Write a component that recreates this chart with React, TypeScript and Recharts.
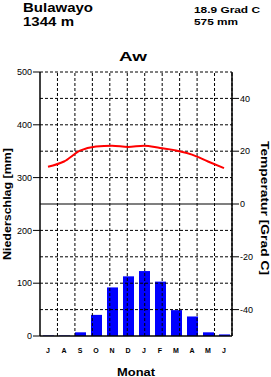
import React from 'react';
import { ComposedChart, Bar, Line, XAxis, YAxis, ReferenceLine } from 'recharts';

const months = ['J', 'A', 'S', 'O', 'N', 'D', 'J', 'F', 'M', 'A', 'M', 'J'];
const precipitation = [1, 1, 7, 40, 92, 113, 123, 103, 49, 37, 7, 3];
const temperature = [14.1, 16.1, 20.2, 21.8, 22.1, 21.6, 22.1, 21.2, 20.3, 18.7, 16.1, 13.6];
const precipTicks = [0, 100, 200, 300, 400, 500];
const tempTicks = [-40, -20, 0, 20, 40];
const precipGridDashed = [50, 100, 150, 200, 300, 350, 400, 450, 500];
const tempGridSolid = [0];
const monthBoundaries = [1, 2, 3, 4, 5, 6, 7, 8, 9, 10, 11];

const data = months.map((m, i) => ({ month: m, p: precipitation[i], t: temperature[i] }));

const FONT = '"Liberation Sans", Arial, Helvetica, sans-serif';

export default function App() {
  const tickStyle = { fontSize: 9, fill: '#000', fontFamily: FONT };
  return (
    <div style={{ position: 'absolute', left: 0, top: 0, width: 271, height: 377, background: '#fff' }}>
      <ComposedChart
        width={271}
        height={377}
        data={data}
        margin={{ top: 72, right: 9, bottom: 21, left: 10 }}
      >
        <XAxis
          dataKey="month"
          allowDuplicatedCategory
          tickLine={false}
          tickSize={10}
          tickMargin={2}
          height={20}
          axisLine={{ stroke: '#000', strokeWidth: 1.5 }}
          tick={{ fontSize: 7, fill: '#000', fontFamily: FONT, fontWeight: 'bold' }}
          interval={0}
        />
        <XAxis xAxisId="grid" type="number" domain={[0, 12]} allowDataOverflow hide />
        <YAxis
          yAxisId="left"
          domain={[0, 500]}
          ticks={precipTicks}
          width={30}
          tickSize={7}
          tickMargin={1}
          interval={0}
          axisLine={{ stroke: '#000', strokeWidth: 1.5 }}
          tickLine={{ stroke: '#000' }}
          tick={tickStyle}
        />
        <YAxis
          yAxisId="right"
          orientation="right"
          domain={[-50, 50]}
          ticks={tempTicks}
          width={30}
          tickSize={7}
          tickMargin={1}
          interval={0}
          axisLine={{ stroke: '#000', strokeWidth: 1.5 }}
          tickLine={{ stroke: '#000' }}
          tick={tickStyle}
        />
        {precipGridDashed.map((v) => (
          <ReferenceLine key={'h' + v} yAxisId="left" y={v} stroke="#000" strokeDasharray="3 2" strokeWidth={1} />
        ))}
        {tempGridSolid.map((v) => (
          <ReferenceLine key={'t' + v} yAxisId="right" y={v} stroke="#000" strokeWidth={1.2} />
        ))}
        {monthBoundaries.map((v) => (
          <ReferenceLine key={'v' + v} xAxisId="grid" yAxisId="left" x={v} stroke="#000" strokeDasharray="3 2" strokeWidth={1} />
        ))}
        <Bar yAxisId="left" dataKey="p" fill="#0000ff" barSize={11} isAnimationActive={false} />
        <Line
          yAxisId="right"
          dataKey="t"
          type="monotone"
          stroke="#ff0000"
          strokeWidth={2}
          dot={false}
          isAnimationActive={false}
        />
      </ComposedChart>
      <svg
        width={271}
        height={377}
        style={{ position: 'absolute', left: 0, top: 0, pointerEvents: 'none' }}
        fontFamily={FONT}
        fontWeight="bold"
      >
        <text x={23} y={12} fontSize={13} textLength={70} lengthAdjust="spacingAndGlyphs">Bulawayo</text>
        <text x={23} y={26} fontSize={13} textLength={51} lengthAdjust="spacingAndGlyphs">1344 m</text>
        <text x={194} y={13} fontSize={9.5} textLength={66} lengthAdjust="spacingAndGlyphs">18.9 Grad C</text>
        <text x={194} y={25} fontSize={9.5} textLength={44} lengthAdjust="spacingAndGlyphs">575 mm</text>
        <text x={119} y={61} fontSize={12} textLength={28} lengthAdjust="spacingAndGlyphs">Aw</text>
        <text x={117} y={376} fontSize={11} textLength={38} lengthAdjust="spacingAndGlyphs">Monat</text>
        <text transform="translate(11,204) rotate(-90)" x={-56} y={0} fontSize={11} textLength={112} lengthAdjust="spacingAndGlyphs">Niederschlag [mm]</text>
        <text transform="translate(261,208) rotate(90)" x={-67} y={0} fontSize={11} textLength={134} lengthAdjust="spacingAndGlyphs">Temperatur [Grad C]</text>
      </svg>
    </div>
  );
}
